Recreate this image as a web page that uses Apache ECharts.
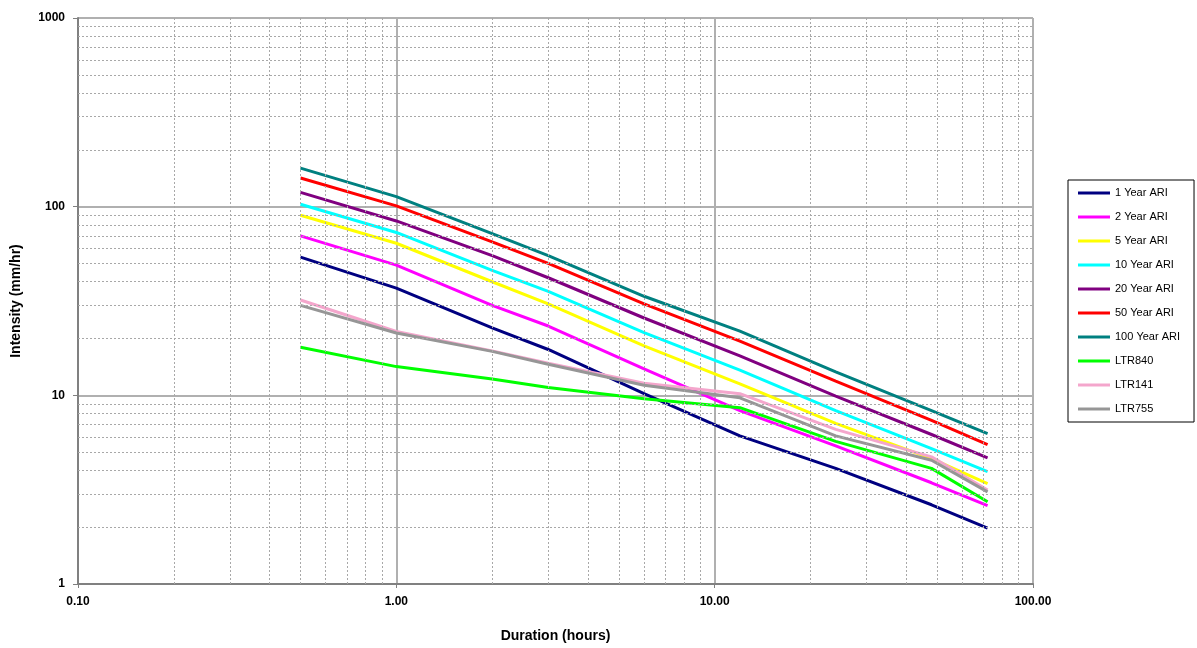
<!DOCTYPE html>
<html>
<head>
<meta charset="utf-8">
<script src="https://cdn.jsdelivr.net/npm/echarts@6/dist/echarts.min.js"></script>
<style>
html,body{margin:0;padding:0;background:#fff;}
#chart{width:1197px;height:648px;}
</style>
</head>
<body>
<div id="chart"></div>
<script>
var durations = [0.5, 1, 2, 3, 6, 12, 24, 48, 72];
var seriesNames = ['1 Year ARI','2 Year ARI','5 Year ARI','10 Year ARI','20 Year ARI','50 Year ARI','100 Year ARI','LTR840','LTR141','LTR755'];
var ari1   = [54, 37, 22.8, 17.5, 10.2, 6.1, 4.1, 2.63, 1.98];
var ari2   = [70, 49, 30, 23.3, 13.8, 8.3, 5.4, 3.44, 2.6];
var ari5   = [90, 64, 40, 30.5, 18.3, 11.5, 7.1, 4.62, 3.4];
var ari10  = [103, 73, 46, 35.6, 21.5, 13.6, 8.3, 5.22, 3.94];
var ari20  = [119, 84, 55, 42, 25.7, 16.2, 9.9, 6.2, 4.66];
var ari50  = [142, 101, 65, 50, 30.5, 19.4, 11.9, 7.36, 5.48];
var ari100 = [160, 113, 72, 55, 33.5, 21.9, 13.3, 8.3, 6.26];
var ltr840 = [18, 14.2, 12.2, 11, 9.6, 8.6, 5.7, 4.1, 2.73];
var ltr141 = [32, 21.8, 17.2, 14.8, 11.6, 10.2, 6.6, 4.72, 3.15];
var ltr755 = [30, 21.4, 17.1, 14.6, 11.3, 9.7, 6.1, 4.53, 3.08];
var xMinorTicks = [0.2,0.3,0.4,0.5,0.6,0.7,0.8,0.9,2,3,4,5,6,7,8,9,20,30,40,50,60,70,80,90];
var yMinorTicks = [2,3,4,5,6,7,8,9,20,30,40,50,60,70,80,90,200,300,400,500,600,700,800,900];

var colors = ['#000080','#ff00ff','#ffff00','#00ffff','#800080','#ff0000','#008080','#00ff00','#f4a6cc','#969696'];
var allData = [ari1, ari2, ari5, ari10, ari20, ari50, ari100, ltr840, ltr141, ltr755];

var font = 'Arial, "Liberation Sans", sans-serif';
var series = [];
series.push({
  name: 'grid-minor', type: 'line', data: [], silent: true, z: 1,
  markLine: {
    silent: true, symbol: ['none','none'], animation: false,
    label: {show: false},
    lineStyle: {color: '#a8a8a8', width: 1, type: [2, 2]},
    data: xMinorTicks.map(function(v){return {xAxis: v};}).concat(yMinorTicks.map(function(v){return {yAxis: v};}))
  }
});
for (var i = 0; i < seriesNames.length; i++) {
  series.push({
    name: seriesNames[i], type: 'line', z: 3,
    data: durations.map(function(d, j){ return [d, allData[i][j]]; }),
    showSymbol: false, symbol: 'none',
    lineStyle: {color: colors[i], width: 3},
    itemStyle: {color: colors[i]},
    animation: false
  });
}

var chart = echarts.init(document.getElementById('chart'));
chart.setOption({
  backgroundColor: '#fff',
  animation: false,
  grid: {left: 78, top: 18, width: 955, height: 570, containLabel: false},
  legend: {
    data: seriesNames,
    orient: 'vertical', left: 1068, top: 180,
    icon: 'rect', itemWidth: 32, itemHeight: 3, itemGap: 10,
    padding: [6, 14, 6, 10],
    borderColor: '#000', borderWidth: 1,
    textStyle: {fontFamily: font, fontSize: 11, color: '#000', lineHeight: 14},
    selectedMode: false
  },
  xAxis: {
    type: 'log', logBase: 10, min: 0.1, max: 100,
    name: 'Duration (hours)', nameLocation: 'middle', nameGap: 45,
    nameTextStyle: {fontFamily: font, fontSize: 14, fontWeight: 'bold', color: '#000'},
    axisLine: {show: true, onZero: false, lineStyle: {color: '#808080', width: 2}},
    axisTick: {show: true, length: 4, lineStyle: {color: '#808080'}},
    axisLabel: {fontFamily: font, fontSize: 12, fontWeight: 'bold', color: '#000', margin: 12,
      formatter: function(v){ return Number(v).toFixed(2); }},
    splitLine: {show: true, lineStyle: {color: '#b0b0b0', width: 2}}
  },
  yAxis: {
    type: 'log', logBase: 10, min: 1, max: 1000,
    name: 'Intensity (mm/hr)', nameLocation: 'middle', nameGap: 55, nameRotate: 90,
    nameTextStyle: {fontFamily: font, fontSize: 14, fontWeight: 'bold', color: '#000'},
    axisLine: {show: true, onZero: false, lineStyle: {color: '#808080', width: 2}},
    axisTick: {show: true, length: 5, lineStyle: {color: '#808080'}},
    axisLabel: {fontFamily: font, fontSize: 12, fontWeight: 'bold', color: '#000', margin: 13,
      formatter: function(v){ return String(Math.round(v)); }},
    splitLine: {show: true, lineStyle: {color: '#b0b0b0', width: 2}}
  },
  series: series
});
</script>
</body>
</html>
